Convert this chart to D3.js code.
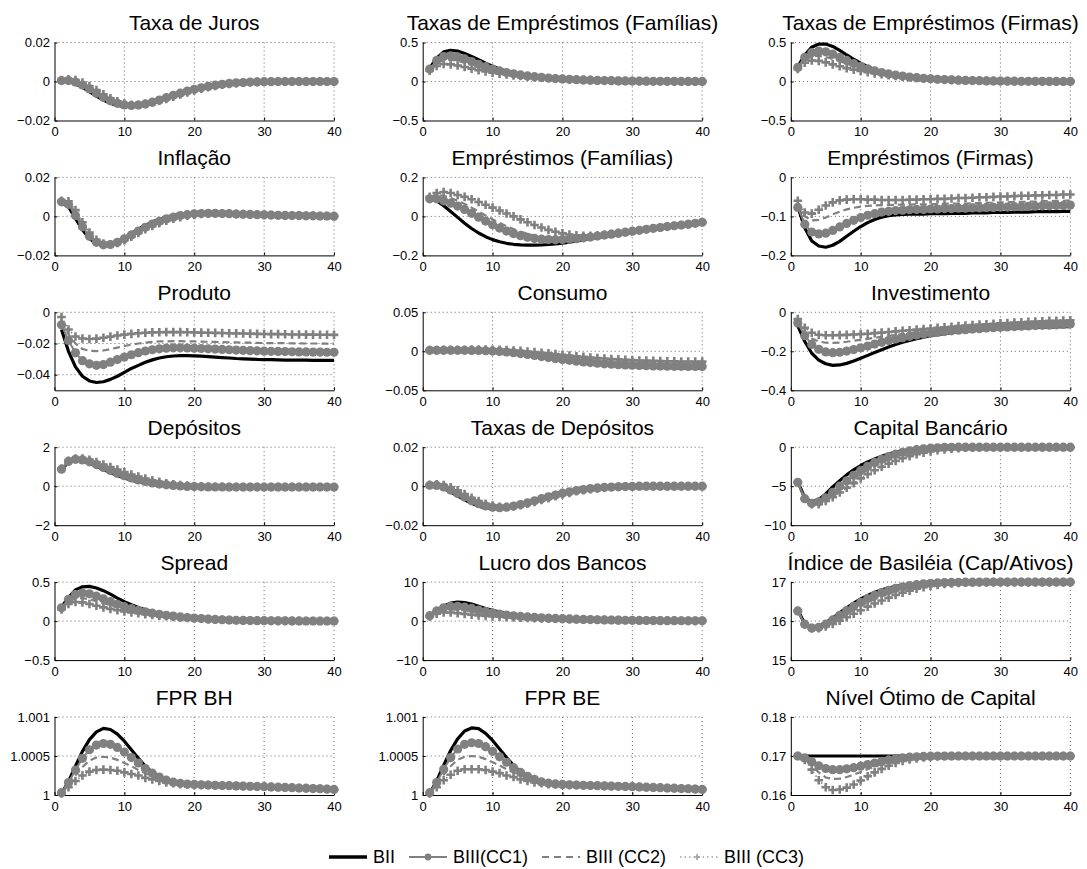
<!DOCTYPE html>
<html>
<head>
<meta charset="utf-8">
<script src="https://cdn.jsdelivr.net/npm/d3@7"></script>
<style>
  body { margin: 0; background: #fff; }
  svg { display: block; font-family: "Liberation Sans", Arial, Helvetica, sans-serif; }
</style>
</head>
<body>
<svg id="chart" width="1087" height="869"></svg>
<script>
// ---- data: impulse responses over 40 periods, one array per scenario ----
const periods = [1,2,3,4,5,6,7,8,9,10,11,12,13,14,15,16,17,18,19,20,
                 21,22,23,24,25,26,27,28,29,30,31,32,33,34,35,36,37,38,39,40];

const seriesNames = ["BII", "BIII(CC1)", "BIII (CC2)", "BIII (CC3)"];

const titles = [
  "Taxa de Juros", "Taxas de Empréstimos (Famílias)", "Taxas de Empréstimos (Firmas)",
  "Inflação", "Empréstimos (Famílias)", "Empréstimos (Firmas)",
  "Produto", "Consumo", "Investimento",
  "Depósitos", "Taxas de Depósitos", "Capital Bancário",
  "Spread", "Lucro dos Bancos", "Índice de Basiléia (Cap/Ativos)",
  "FPR BH", "FPR BE", "Nível Ótimo de Capital"
];

const yDomains = [
  [-0.02, 0.02], [-0.5, 0.5], [-0.5, 0.5],
  [-0.02, 0.02], [-0.2, 0.2], [-0.2, 0],
  [-0.05, 0], [-0.05, 0.05], [-0.4, 0],
  [-2, 2], [-0.02, 0.02], [-10, 0],
  [-0.5, 0.5], [-10, 10], [15, 17],
  [1, 1.001], [1, 1.001], [0.16, 0.18]
];

const yTicks = [
  [-0.02, 0, 0.02], [-0.5, 0, 0.5], [-0.5, 0, 0.5],
  [-0.02, 0, 0.02], [-0.2, 0, 0.2], [-0.2, -0.1, 0],
  [-0.04, -0.02, 0], [-0.05, 0, 0.05], [-0.4, -0.2, 0],
  [-2, 0, 2], [-0.02, 0, 0.02], [-10, -5, 0],
  [-0.5, 0, 0.5], [-10, 0, 10], [15, 16, 17],
  [1, 1.0005, 1.001], [1, 1.0005, 1.001], [0.16, 0.17, 0.18]
];

const yTickLabels = [
  ["−0.02", "0", "0.02"], ["−0.5", "0", "0.5"], ["−0.5", "0", "0.5"],
  ["−0.02", "0", "0.02"], ["−0.2", "0", "0.2"], ["−0.2", "−0.1", "0"],
  ["−0.04", "−0.02", "0"], ["−0.05", "0", "0.05"], ["−0.4", "−0.2", "0"],
  ["−2", "0", "2"], ["−0.02", "0", "0.02"], ["−10", "−5", "0"],
  ["−0.5", "0", "0.5"], ["−10", "0", "10"], ["15", "16", "17"],
  ["1", "1.0005", "1.001"], ["1", "1.0005", "1.001"], ["0.16", "0.17", "0.18"]
];

const xTicks = [0, 10, 20, 30, 40];
const xTickLabels = ["0", "10", "20", "30", "40"];

// each panel: [BII, BIII(CC1), BIII (CC2), BIII (CC3)]
const taxaJuros = [
  [0.0003,0.0000,-0.0012,-0.0030,-0.0052,-0.0075,-0.0095,-0.0112,-0.0123,-0.0128,
   -0.0127,-0.0122,-0.0113,-0.0102,-0.0090,-0.0078,-0.0066,-0.0055,-0.0045,-0.0036,
   -0.0028,-0.0022,-0.0016,-0.0012,-0.0008,-0.0006,-0.0004,-0.0003,-0.0002,-0.0001,
   -0.0001,0,0,0,0,0,0,0,0,0],
  [0.0005,0.0005,-0.0003,-0.0018,-0.0038,-0.0060,-0.0081,-0.0099,-0.0112,-0.0120,
   -0.0123,-0.0121,-0.0115,-0.0106,-0.0095,-0.0083,-0.0071,-0.0060,-0.0049,-0.0040,
   -0.0032,-0.0025,-0.0019,-0.0014,-0.0010,-0.0007,-0.0005,-0.0003,-0.0002,-0.0001,
   -0.0001,0,0,0,0,0,0,0,0,0],
  [0.0006,0.0008,0.0002,-0.0012,-0.0031,-0.0052,-0.0074,-0.0093,-0.0108,-0.0117,
   -0.0121,-0.0120,-0.0115,-0.0107,-0.0097,-0.0086,-0.0074,-0.0063,-0.0052,-0.0043,
   -0.0034,-0.0027,-0.0021,-0.0016,-0.0011,-0.0008,-0.0005,-0.0003,-0.0002,-0.0001,
   -0.0001,0,0,0,0,0,0,0,0,0],
  [0.0007,0.0011,0.0007,-0.0005,-0.0023,-0.0044,-0.0066,-0.0086,-0.0102,-0.0113,
   -0.0119,-0.0119,-0.0115,-0.0108,-0.0099,-0.0089,-0.0078,-0.0067,-0.0056,-0.0046,
   -0.0037,-0.0029,-0.0023,-0.0017,-0.0012,-0.0009,-0.0006,-0.0004,-0.0002,-0.0001,
   -0.0001,0,0,0,0,0,0,0,0,0]
];

const taxasEmpFamilias = [
  [0.17,0.30,0.38,0.40,0.39,0.36,0.32,0.28,0.235,0.195,
   0.16,0.13,0.108,0.09,0.076,0.064,0.054,0.046,0.039,0.033,
   0.028,0.024,0.02,0.017,0.014,0.012,0.01,0.008,0.007,0.006,
   0.005,0.004,0.003,0.003,0.002,0.002,0.001,0.001,0.001,0.001],
  [0.16,0.27,0.32,0.33,0.315,0.29,0.255,0.22,0.19,0.16,
   0.135,0.115,0.098,0.084,0.072,0.062,0.053,0.045,0.038,0.033,
   0.028,0.024,0.02,0.017,0.014,0.012,0.01,0.008,0.007,0.006,
   0.005,0.004,0.003,0.003,0.002,0.002,0.001,0.001,0.001,0.001],
  [0.15,0.24,0.275,0.28,0.265,0.24,0.215,0.19,0.165,0.143,
   0.124,0.107,0.093,0.081,0.07,0.06,0.052,0.045,0.038,0.033,
   0.028,0.024,0.02,0.017,0.014,0.012,0.01,0.008,0.007,0.006,
   0.005,0.004,0.003,0.003,0.002,0.002,0.001,0.001,0.001,0.001],
  [0.14,0.20,0.225,0.22,0.205,0.185,0.165,0.145,0.128,0.113,
   0.10,0.089,0.079,0.07,0.062,0.055,0.048,0.042,0.037,0.032,
   0.028,0.024,0.02,0.017,0.014,0.012,0.01,0.008,0.007,0.006,
   0.005,0.004,0.003,0.003,0.002,0.002,0.001,0.001,0.001,0.001]
];

const taxasEmpFirmas = [
  [0.19,0.34,0.44,0.48,0.48,0.45,0.40,0.34,0.285,0.235,
   0.19,0.155,0.126,0.103,0.085,0.07,0.058,0.048,0.04,0.034,
   0.029,0.025,0.021,0.017,0.014,0.012,0.01,0.008,0.007,0.006,
   0.005,0.004,0.003,0.003,0.002,0.002,0.001,0.001,0.001,0.001],
  [0.18,0.31,0.37,0.39,0.38,0.35,0.31,0.27,0.23,0.195,
   0.163,0.137,0.115,0.097,0.082,0.069,0.058,0.049,0.041,0.035,
   0.029,0.025,0.021,0.017,0.014,0.012,0.01,0.008,0.007,0.006,
   0.005,0.004,0.003,0.003,0.002,0.002,0.001,0.001,0.001,0.001],
  [0.17,0.28,0.32,0.33,0.315,0.29,0.26,0.23,0.20,0.172,
   0.147,0.125,0.106,0.09,0.077,0.065,0.055,0.047,0.04,0.034,
   0.029,0.025,0.021,0.017,0.014,0.012,0.01,0.008,0.007,0.006,
   0.005,0.004,0.003,0.003,0.002,0.002,0.001,0.001,0.001,0.001],
  [0.16,0.24,0.27,0.265,0.245,0.22,0.195,0.172,0.152,0.134,
   0.118,0.104,0.092,0.081,0.071,0.062,0.054,0.047,0.04,0.034,
   0.029,0.025,0.021,0.017,0.014,0.012,0.01,0.008,0.007,0.006,
   0.005,0.004,0.003,0.003,0.002,0.002,0.001,0.001,0.001,0.001]
];

const inflacao = [
  [0.0070,0.0050,-0.0010,-0.0068,-0.0113,-0.0140,-0.0149,-0.0144,-0.0130,-0.0110,
   -0.0088,-0.0066,-0.0046,-0.0029,-0.0015,-0.0004,0.0004,0.0010,0.0014,0.0016,
   0.0017,0.0016,0.0015,0.0014,0.0013,0.0011,0.0010,0.0009,0.0008,0.0007,
   0.0006,0.0005,0.0004,0.0004,0.0003,0.0003,0.0002,0.0002,0.0002,0.0001],
  [0.0075,0.0062,0.0005,-0.0053,-0.0102,-0.0133,-0.0146,-0.0144,-0.0133,-0.0115,
   -0.0095,-0.0075,-0.0056,-0.0039,-0.0025,-0.0013,-0.0004,0.0004,0.0009,0.0013,
   0.0015,0.0016,0.0016,0.0015,0.0014,0.0012,0.0011,0.0010,0.0009,0.0008,
   0.0007,0.0006,0.0005,0.0004,0.0004,0.0003,0.0003,0.0002,0.0002,0.0001],
  [0.0078,0.0070,0.0018,-0.0042,-0.0093,-0.0127,-0.0143,-0.0144,-0.0135,-0.0119,
   -0.0100,-0.0080,-0.0061,-0.0044,-0.0030,-0.0018,-0.0008,0.0000,0.0006,0.0011,
   0.0014,0.0015,0.0015,0.0015,0.0014,0.0013,0.0012,0.0010,0.0009,0.0008,
   0.0007,0.0006,0.0005,0.0004,0.0004,0.0003,0.0003,0.0002,0.0002,0.0001],
  [0.0080,0.0078,0.0032,-0.0030,-0.0083,-0.0120,-0.0139,-0.0143,-0.0136,-0.0122,
   -0.0104,-0.0085,-0.0066,-0.0049,-0.0035,-0.0022,-0.0012,-0.0004,0.0003,0.0008,
   0.0012,0.0014,0.0015,0.0015,0.0014,0.0013,0.0012,0.0011,0.0009,0.0008,
   0.0007,0.0006,0.0005,0.0005,0.0004,0.0003,0.0003,0.0002,0.0002,0.0001]
];

const empFamilias = [
  [0.09,0.08,0.055,0.025,-0.005,-0.035,-0.062,-0.085,-0.104,-0.119,
   -0.130,-0.138,-0.143,-0.146,-0.147,-0.147,-0.146,-0.144,-0.141,-0.137,
   -0.132,-0.126,-0.12,-0.114,-0.108,-0.102,-0.096,-0.09,-0.085,-0.079,
   -0.074,-0.069,-0.064,-0.059,-0.054,-0.049,-0.045,-0.041,-0.037,-0.033],
  [0.09,0.09,0.08,0.068,0.053,0.036,0.016,-0.004,-0.024,-0.043,
   -0.06,-0.075,-0.088,-0.099,-0.107,-0.113,-0.117,-0.119,-0.12,-0.119,
   -0.117,-0.114,-0.11,-0.106,-0.101,-0.096,-0.091,-0.086,-0.081,-0.076,
   -0.071,-0.066,-0.061,-0.057,-0.052,-0.048,-0.044,-0.04,-0.035,-0.03],
  [0.095,0.11,0.105,0.095,0.08,0.064,0.045,0.025,0.005,-0.015,
   -0.033,-0.05,-0.065,-0.078,-0.089,-0.098,-0.105,-0.109,-0.112,-0.113,
   -0.113,-0.111,-0.108,-0.105,-0.101,-0.096,-0.091,-0.086,-0.081,-0.076,
   -0.071,-0.066,-0.061,-0.057,-0.052,-0.048,-0.044,-0.04,-0.035,-0.03],
  [0.10,0.12,0.125,0.12,0.11,0.10,0.088,0.074,0.06,0.045,
   0.03,0.015,0.0,-0.015,-0.03,-0.044,-0.057,-0.069,-0.079,-0.087,
   -0.093,-0.097,-0.099,-0.099,-0.097,-0.094,-0.09,-0.086,-0.081,-0.076,
   -0.071,-0.066,-0.061,-0.057,-0.052,-0.048,-0.044,-0.04,-0.035,-0.03]
];

const empFirmas = [
  [-0.075,-0.13,-0.163,-0.176,-0.179,-0.174,-0.164,-0.151,-0.138,-0.126,
   -0.116,-0.108,-0.102,-0.098,-0.096,-0.095,-0.094,-0.094,-0.094,-0.093,
   -0.093,-0.093,-0.092,-0.092,-0.092,-0.091,-0.091,-0.091,-0.090,-0.090,
   -0.090,-0.089,-0.089,-0.089,-0.088,-0.088,-0.088,-0.088,-0.087,-0.087],
  [-0.077,-0.12,-0.14,-0.145,-0.143,-0.136,-0.127,-0.118,-0.11,-0.103,
   -0.097,-0.093,-0.089,-0.087,-0.085,-0.084,-0.083,-0.082,-0.082,-0.081,
   -0.081,-0.08,-0.08,-0.079,-0.079,-0.078,-0.078,-0.077,-0.077,-0.076,
   -0.076,-0.075,-0.075,-0.074,-0.074,-0.073,-0.073,-0.072,-0.072,-0.071],
  [-0.07,-0.10,-0.11,-0.109,-0.103,-0.095,-0.088,-0.082,-0.078,-0.075,
   -0.073,-0.072,-0.071,-0.071,-0.07,-0.07,-0.07,-0.069,-0.069,-0.069,
   -0.068,-0.068,-0.067,-0.067,-0.067,-0.066,-0.066,-0.065,-0.065,-0.064,
   -0.064,-0.063,-0.063,-0.062,-0.062,-0.061,-0.061,-0.06,-0.06,-0.059],
  [-0.06,-0.09,-0.093,-0.083,-0.072,-0.064,-0.059,-0.057,-0.056,-0.056,
   -0.057,-0.057,-0.058,-0.058,-0.058,-0.058,-0.057,-0.057,-0.056,-0.056,
   -0.055,-0.055,-0.054,-0.053,-0.053,-0.052,-0.051,-0.051,-0.05,-0.049,
   -0.049,-0.048,-0.047,-0.047,-0.046,-0.046,-0.045,-0.045,-0.044,-0.044]
];

const produto = [
  [-0.011,-0.025,-0.035,-0.041,-0.044,-0.045,-0.0445,-0.043,-0.041,-0.0385,
   -0.036,-0.034,-0.032,-0.0305,-0.0293,-0.0285,-0.028,-0.0278,-0.0278,-0.0279,
   -0.0281,-0.0284,-0.0287,-0.029,-0.0293,-0.0296,-0.0298,-0.03,-0.0302,-0.0303,
   -0.0304,-0.0305,-0.0306,-0.0306,-0.0307,-0.0307,-0.0308,-0.0308,-0.0308,-0.0308],
  [-0.008,-0.018,-0.026,-0.031,-0.033,-0.034,-0.0335,-0.032,-0.0303,-0.0287,
   -0.0272,-0.0259,-0.0248,-0.024,-0.0234,-0.023,-0.0228,-0.0228,-0.0229,-0.023,
   -0.0232,-0.0234,-0.0236,-0.0238,-0.024,-0.0242,-0.0244,-0.0246,-0.0247,-0.0249,
   -0.025,-0.0251,-0.0252,-0.0253,-0.0254,-0.0254,-0.0255,-0.0255,-0.0256,-0.0256],
  [-0.006,-0.014,-0.02,-0.0235,-0.0247,-0.0249,-0.0245,-0.0236,-0.0226,-0.0216,
   -0.0207,-0.02,-0.0194,-0.019,-0.0187,-0.0186,-0.0185,-0.0185,-0.0186,-0.0187,
   -0.0188,-0.0189,-0.019,-0.0191,-0.0192,-0.0193,-0.0194,-0.0195,-0.0196,-0.0197,
   -0.0197,-0.0198,-0.0198,-0.0199,-0.0199,-0.02,-0.02,-0.02,-0.0201,-0.0201],
  [-0.003,-0.011,-0.0155,-0.0168,-0.0171,-0.0169,-0.0163,-0.0156,-0.0149,-0.0143,
   -0.0138,-0.0134,-0.0131,-0.0129,-0.0128,-0.0127,-0.0127,-0.0127,-0.0128,-0.0129,
   -0.013,-0.0131,-0.0132,-0.0133,-0.0134,-0.0135,-0.0136,-0.0137,-0.0138,-0.0139,
   -0.014,-0.014,-0.0141,-0.0142,-0.0142,-0.0143,-0.0143,-0.0144,-0.0144,-0.0145]
];

const consumo = [
  [0.001,0.001,0.001,0.001,0.001,0.001,0.0009,0.0007,0.0004,0.0,
   -0.0006,-0.0014,-0.0024,-0.0036,-0.0049,-0.0063,-0.0077,-0.0091,-0.0104,-0.0117,
   -0.0129,-0.014,-0.015,-0.0159,-0.0167,-0.0174,-0.018,-0.0186,-0.0191,-0.0195,
   -0.0199,-0.0202,-0.0205,-0.0208,-0.021,-0.0212,-0.0214,-0.0216,-0.0217,-0.0218],
  [0.0012,0.0012,0.0012,0.0012,0.0012,0.0012,0.0011,0.001,0.0007,0.0003,
   -0.0002,-0.0009,-0.0018,-0.0029,-0.0041,-0.0054,-0.0067,-0.008,-0.0093,-0.0105,
   -0.0116,-0.0127,-0.0136,-0.0145,-0.0153,-0.016,-0.0166,-0.0171,-0.0175,-0.0179,
   -0.0182,-0.0185,-0.0187,-0.0189,-0.0191,-0.0192,-0.0193,-0.0194,-0.0195,-0.0196],
  [0.0014,0.0014,0.0014,0.0014,0.0014,0.0015,0.0015,0.0015,0.0014,0.0012,
   0.0009,0.0004,-0.0002,-0.001,-0.0019,-0.0029,-0.0039,-0.005,-0.0061,-0.0072,
   -0.0082,-0.0092,-0.0101,-0.011,-0.0118,-0.0125,-0.0131,-0.0137,-0.0142,-0.0146,
   -0.015,-0.0153,-0.0156,-0.0158,-0.016,-0.0162,-0.0163,-0.0164,-0.0165,-0.0166],
  [0.0016,0.0017,0.0018,0.0019,0.0019,0.002,0.0021,0.0021,0.0021,0.002,
   0.0018,0.0015,0.0011,0.0005,-0.0002,-0.001,-0.0018,-0.0027,-0.0036,-0.0045,
   -0.0054,-0.0063,-0.0071,-0.0079,-0.0086,-0.0093,-0.0099,-0.0104,-0.0109,-0.0113,
   -0.0117,-0.012,-0.0123,-0.0125,-0.0127,-0.0129,-0.013,-0.0131,-0.0132,-0.0133]
];

const investimento = [
  [-0.07,-0.15,-0.21,-0.245,-0.264,-0.272,-0.27,-0.262,-0.25,-0.236,
   -0.221,-0.206,-0.192,-0.178,-0.165,-0.154,-0.144,-0.135,-0.127,-0.12,
   -0.114,-0.109,-0.104,-0.1,-0.097,-0.094,-0.091,-0.089,-0.087,-0.085,
   -0.083,-0.082,-0.08,-0.079,-0.078,-0.077,-0.076,-0.075,-0.074,-0.073],
  [-0.055,-0.12,-0.165,-0.19,-0.203,-0.207,-0.205,-0.199,-0.191,-0.182,
   -0.173,-0.163,-0.154,-0.145,-0.137,-0.13,-0.123,-0.117,-0.112,-0.107,
   -0.103,-0.099,-0.095,-0.092,-0.089,-0.086,-0.084,-0.081,-0.079,-0.077,
   -0.075,-0.073,-0.071,-0.07,-0.068,-0.067,-0.066,-0.064,-0.062,-0.06],
  [-0.045,-0.10,-0.135,-0.15,-0.156,-0.157,-0.155,-0.151,-0.146,-0.141,
   -0.136,-0.131,-0.126,-0.121,-0.116,-0.112,-0.108,-0.104,-0.1,-0.097,
   -0.094,-0.091,-0.088,-0.085,-0.082,-0.08,-0.078,-0.075,-0.073,-0.071,
   -0.069,-0.067,-0.066,-0.064,-0.063,-0.061,-0.059,-0.057,-0.055,-0.053],
  [-0.035,-0.08,-0.105,-0.115,-0.118,-0.118,-0.117,-0.116,-0.114,-0.112,
   -0.11,-0.107,-0.104,-0.101,-0.098,-0.095,-0.092,-0.089,-0.086,-0.083,
   -0.08,-0.077,-0.074,-0.071,-0.068,-0.066,-0.063,-0.061,-0.059,-0.057,
   -0.055,-0.053,-0.051,-0.049,-0.047,-0.046,-0.044,-0.043,-0.042,-0.041]
];

const depositos = [
  [0.85,1.25,1.35,1.30,1.18,1.02,0.86,0.70,0.55,0.42,
   0.31,0.22,0.15,0.09,0.05,0.02,0.0,-0.01,-0.02,-0.03,
   -0.03,-0.04,-0.04,-0.04,-0.04,-0.04,-0.04,-0.04,-0.04,-0.04,
   -0.04,-0.04,-0.04,-0.04,-0.04,-0.04,-0.04,-0.04,-0.04,-0.04],
  [0.87,1.27,1.38,1.35,1.25,1.11,0.96,0.81,0.67,0.54,
   0.42,0.32,0.24,0.17,0.11,0.07,0.04,0.01,-0.01,-0.02,
   -0.03,-0.04,-0.04,-0.04,-0.04,-0.04,-0.04,-0.04,-0.04,-0.04,
   -0.04,-0.04,-0.04,-0.04,-0.04,-0.04,-0.04,-0.04,-0.04,-0.04],
  [0.88,1.29,1.40,1.39,1.30,1.18,1.04,0.90,0.76,0.63,
   0.51,0.40,0.31,0.23,0.16,0.11,0.07,0.04,0.01,0.0,
   -0.02,-0.03,-0.03,-0.04,-0.04,-0.04,-0.04,-0.04,-0.04,-0.04,
   -0.04,-0.04,-0.04,-0.04,-0.04,-0.04,-0.04,-0.04,-0.04,-0.04],
  [0.90,1.30,1.42,1.42,1.35,1.24,1.11,0.98,0.85,0.72,
   0.60,0.49,0.39,0.30,0.22,0.15,0.10,0.06,0.03,0.01,
   -0.01,-0.02,-0.03,-0.03,-0.04,-0.04,-0.04,-0.04,-0.04,-0.04,
   -0.04,-0.04,-0.04,-0.04,-0.04,-0.04,-0.04,-0.04,-0.04,-0.04]
];

const taxasDepositos = [
  [0.0003,0.0,-0.0012,-0.003,-0.005,-0.007,-0.0088,-0.0102,-0.0111,-0.0115,
   -0.0114,-0.0109,-0.0101,-0.0091,-0.008,-0.0069,-0.0058,-0.0048,-0.0039,-0.0031,
   -0.0024,-0.0018,-0.0013,-0.001,-0.0007,-0.0005,-0.0003,-0.0002,-0.0001,-0.0001,
   0,0,0,0,0,0,0,0,0,0],
  [0.0005,0.0004,-0.0004,-0.0019,-0.0037,-0.0056,-0.0075,-0.009,-0.0101,-0.0108,
   -0.011,-0.0108,-0.0102,-0.0094,-0.0085,-0.0075,-0.0064,-0.0054,-0.0045,-0.0036,
   -0.0029,-0.0022,-0.0017,-0.0012,-0.0009,-0.0006,-0.0004,-0.0003,-0.0002,-0.0001,
   0,0,0,0,0,0,0,0,0,0],
  [0.0006,0.0007,0.0001,-0.0012,-0.0029,-0.0048,-0.0067,-0.0083,-0.0096,-0.0104,
   -0.0108,-0.0107,-0.0103,-0.0096,-0.0088,-0.0078,-0.0068,-0.0058,-0.0048,-0.0039,
   -0.0031,-0.0024,-0.0018,-0.0013,-0.001,-0.0007,-0.0005,-0.0003,-0.0002,-0.0001,
   0,0,0,0,0,0,0,0,0,0],
  [0.0007,0.001,0.0006,-0.0005,-0.0021,-0.004,-0.0059,-0.0076,-0.009,-0.0099,
   -0.0105,-0.0106,-0.0103,-0.0097,-0.009,-0.0081,-0.0071,-0.0061,-0.0051,-0.0042,
   -0.0034,-0.0026,-0.002,-0.0015,-0.0011,-0.0008,-0.0005,-0.0003,-0.0002,-0.0001,
   0,0,0,0,0,0,0,0,0,0]
];

const capitalBancario = [
  [-4.4,-6.5,-7.0,-6.7,-6.0,-5.1,-4.3,-3.55,-2.9,-2.35,
   -1.9,-1.5,-1.15,-0.87,-0.64,-0.46,-0.32,-0.21,-0.13,-0.08,
   -0.04,-0.02,-0.01,0,0,0,0,0,0,0,
   0,0,0,0,0,0,0,0,0,0],
  [-4.5,-6.6,-7.2,-7.0,-6.5,-5.8,-5.0,-4.3,-3.6,-3.0,
   -2.45,-1.95,-1.55,-1.2,-0.9,-0.66,-0.47,-0.32,-0.21,-0.13,
   -0.07,-0.03,-0.01,0,0,0,0,0,0,0,
   0,0,0,0,0,0,0,0,0,0],
  [-4.5,-6.6,-7.25,-7.15,-6.7,-6.1,-5.4,-4.7,-4.05,-3.45,
   -2.9,-2.4,-1.97,-1.6,-1.27,-0.98,-0.74,-0.54,-0.38,-0.26,
   -0.17,-0.1,-0.06,-0.03,-0.01,0,0,0,0,0,
   0,0,0,0,0,0,0,0,0,0],
  [-4.5,-6.6,-7.3,-7.3,-6.9,-6.4,-5.8,-5.2,-4.6,-4.0,
   -3.45,-2.95,-2.5,-2.1,-1.75,-1.42,-1.15,-0.9,-0.7,-0.53,
   -0.4,-0.29,-0.2,-0.13,-0.08,-0.05,-0.03,-0.01,0,0,
   0,0,0,0,0,0,0,0,0,0]
];

const spread = [
  [0.18,0.30,0.40,0.44,0.445,0.425,0.39,0.345,0.295,0.25,
   0.21,0.175,0.145,0.12,0.10,0.083,0.069,0.057,0.047,0.039,
   0.032,0.026,0.021,0.017,0.014,0.011,0.009,0.007,0.006,0.005,
   0.004,0.003,0.003,0.002,0.002,0.001,0.001,0.001,0.001,0.001],
  [0.17,0.28,0.34,0.36,0.35,0.32,0.285,0.25,0.215,0.185,
   0.16,0.138,0.119,0.102,0.088,0.075,0.064,0.054,0.046,0.039,
   0.032,0.026,0.021,0.017,0.014,0.011,0.009,0.007,0.006,0.005,
   0.004,0.003,0.003,0.002,0.002,0.001,0.001,0.001,0.001,0.001],
  [0.16,0.25,0.29,0.295,0.28,0.255,0.23,0.205,0.18,0.158,
   0.139,0.122,0.107,0.094,0.082,0.071,0.061,0.052,0.045,0.038,
   0.032,0.026,0.021,0.017,0.014,0.011,0.009,0.007,0.006,0.005,
   0.004,0.003,0.003,0.002,0.002,0.001,0.001,0.001,0.001,0.001],
  [0.15,0.22,0.245,0.24,0.22,0.197,0.176,0.157,0.14,0.125,
   0.112,0.10,0.089,0.079,0.07,0.062,0.054,0.047,0.041,0.035,
   0.03,0.025,0.021,0.017,0.014,0.011,0.009,0.007,0.006,0.005,
   0.004,0.003,0.003,0.002,0.002,0.001,0.001,0.001,0.001,0.001]
];

const lucroBancos = [
  [1.4,2.7,3.9,4.6,4.9,4.75,4.35,3.8,3.25,2.75,
   2.3,1.92,1.62,1.38,1.19,1.04,0.91,0.81,0.72,0.64,
   0.57,0.51,0.45,0.40,0.36,0.32,0.28,0.25,0.22,0.20,
   0.18,0.16,0.14,0.12,0.11,0.10,0.09,0.08,0.07,0.06],
  [1.4,2.6,3.4,3.75,3.8,3.6,3.25,2.85,2.45,2.1,
   1.8,1.55,1.35,1.19,1.06,0.95,0.85,0.76,0.68,0.61,
   0.55,0.49,0.44,0.39,0.35,0.31,0.28,0.25,0.22,0.20,
   0.18,0.16,0.14,0.12,0.11,0.10,0.09,0.08,0.07,0.06],
  [1.3,2.3,2.8,3.0,2.95,2.75,2.5,2.22,1.96,1.73,
   1.53,1.37,1.23,1.11,1.0,0.9,0.81,0.73,0.66,0.6,
   0.54,0.48,0.43,0.39,0.35,0.31,0.28,0.25,0.22,0.20,
   0.18,0.16,0.14,0.12,0.11,0.10,0.09,0.08,0.07,0.06],
  [1.2,1.9,2.2,2.2,2.05,1.85,1.65,1.47,1.32,1.2,
   1.1,1.02,0.95,0.88,0.82,0.76,0.7,0.65,0.6,0.55,
   0.5,0.46,0.42,0.38,0.34,0.31,0.28,0.25,0.22,0.20,
   0.18,0.16,0.14,0.12,0.11,0.10,0.09,0.08,0.07,0.06]
];

const indiceBasileia = [
  [16.28,15.93,15.84,15.87,15.96,16.08,16.21,16.34,16.46,16.57,
   16.66,16.74,16.80,16.85,16.89,16.92,16.945,16.962,16.975,16.984,
   16.99,16.994,16.997,16.998,16.999,17,17,17,17,17,
   17,17,17,17,17,17,17,17,17,17],
  [16.26,15.92,15.82,15.84,15.92,16.03,16.15,16.27,16.38,16.48,
   16.58,16.66,16.73,16.79,16.84,16.88,16.91,16.935,16.955,16.97,
   16.98,16.987,16.992,16.995,16.997,16.999,17,17,17,17,
   17,17,17,17,17,17,17,17,17,17],
  [16.26,15.92,15.82,15.83,15.89,15.98,16.08,16.19,16.29,16.39,
   16.48,16.56,16.64,16.70,16.76,16.81,16.85,16.885,16.915,16.94,
   16.957,16.97,16.98,16.987,16.992,16.995,16.997,16.999,17,17,
   17,17,17,17,17,17,17,17,17,17],
  [16.26,15.92,15.82,15.82,15.86,15.93,16.01,16.10,16.19,16.28,
   16.37,16.45,16.53,16.60,16.67,16.73,16.78,16.83,16.87,16.90,
   16.93,16.95,16.965,16.975,16.985,16.99,16.994,16.997,16.999,17,
   17,17,17,17,17,17,17,17,17,17]
];

const fprBH = [
  [1.00002,1.00017,1.00037,1.00056,1.00071,1.00081,1.000855,1.00084,1.00078,1.00069,
   1.00058,1.00047,1.00037,1.00029,1.00023,1.00019,1.000165,1.00015,1.00014,1.000135,
   1.00013,1.000128,1.000125,1.000122,1.00012,1.000117,1.000115,1.000112,1.00011,1.000107,
   1.000104,1.0001,1.000097,1.000094,1.00009,1.000087,1.000083,1.00008,1.000076,1.000072],
  [1.00003,1.00016,1.00032,1.00047,1.00058,1.00064,1.00066,1.00065,1.00061,1.00055,
   1.00048,1.00041,1.00034,1.00028,1.00023,1.00019,1.000165,1.00015,1.00014,1.000135,
   1.00013,1.000128,1.000125,1.000122,1.00012,1.000117,1.000115,1.000112,1.00011,1.000107,
   1.000104,1.0001,1.000097,1.000094,1.00009,1.000087,1.000083,1.00008,1.000076,1.000072],
  [1.00003,1.00013,1.00025,1.00036,1.00044,1.00048,1.00049,1.00048,1.00045,1.00041,
   1.00037,1.00032,1.00028,1.00024,1.0002,1.00018,1.00016,1.00015,1.00014,1.000135,
   1.00013,1.000128,1.000125,1.000122,1.00012,1.000117,1.000115,1.000112,1.00011,1.000107,
   1.000104,1.0001,1.000097,1.000094,1.00009,1.000087,1.000083,1.00008,1.000076,1.000072],
  [1.00002,1.0001,1.00018,1.00025,1.0003,1.00032,1.000325,1.00032,1.00031,1.00029,
   1.00027,1.00025,1.00022,1.0002,1.00018,1.00016,1.00015,1.00014,1.000135,1.00013,
   1.000128,1.000126,1.000124,1.000121,1.000119,1.000116,1.000114,1.000111,1.000109,1.000106,
   1.000103,1.0001,1.000097,1.000094,1.00009,1.000087,1.000083,1.00008,1.000076,1.000072]
];

const fprBE = [
  [1.00002,1.00018,1.00038,1.00057,1.00072,1.00082,1.00086,1.00085,1.00079,1.0007,
   1.00059,1.00048,1.00038,1.0003,1.00024,1.0002,1.000168,1.000152,1.000142,1.000136,
   1.000131,1.000128,1.000125,1.000122,1.00012,1.000117,1.000115,1.000112,1.00011,1.000107,
   1.000104,1.0001,1.000097,1.000094,1.00009,1.000087,1.000083,1.00008,1.000076,1.000072],
  [1.00003,1.00016,1.00033,1.00048,1.00059,1.00065,1.00067,1.00066,1.00062,1.00056,
   1.00049,1.00042,1.00035,1.00029,1.00024,1.0002,1.000168,1.000152,1.000142,1.000136,
   1.000131,1.000128,1.000125,1.000122,1.00012,1.000117,1.000115,1.000112,1.00011,1.000107,
   1.000104,1.0001,1.000097,1.000094,1.00009,1.000087,1.000083,1.00008,1.000076,1.000072],
  [1.00003,1.00013,1.00026,1.00037,1.00045,1.00049,1.0005,1.00049,1.00046,1.00042,
   1.00038,1.00033,1.00029,1.00025,1.00021,1.00018,1.000162,1.00015,1.00014,1.000135,
   1.00013,1.000128,1.000125,1.000122,1.00012,1.000117,1.000115,1.000112,1.00011,1.000107,
   1.000104,1.0001,1.000097,1.000094,1.00009,1.000087,1.000083,1.00008,1.000076,1.000072],
  [1.00002,1.0001,1.00019,1.00026,1.00031,1.00033,1.00033,1.00033,1.00032,1.0003,
   1.00028,1.00025,1.00023,1.0002,1.00018,1.00016,1.00015,1.00014,1.000135,1.00013,
   1.000128,1.000126,1.000124,1.000121,1.000119,1.000116,1.000114,1.000111,1.000109,1.000106,
   1.000103,1.0001,1.000097,1.000094,1.00009,1.000087,1.000083,1.00008,1.000076,1.000072]
];

const nivelOtimoCapital = [
  [0.17,0.17,0.17,0.17,0.17,0.17,0.17,0.17,0.17,0.17,
   0.17,0.17,0.17,0.17,0.17,0.17,0.17,0.17,0.17,0.17,
   0.17,0.17,0.17,0.17,0.17,0.17,0.17,0.17,0.17,0.17,
   0.17,0.17,0.17,0.17,0.17,0.17,0.17,0.17,0.17,0.17],
  [0.17,0.1695,0.1685,0.1675,0.1668,0.1665,0.1665,0.1667,0.167,0.1674,
   0.1678,0.1682,0.1686,0.169,0.1693,0.1695,0.1697,0.1698,0.1699,0.16995,
   0.17,0.17,0.17,0.17,0.17,0.17,0.17,0.17,0.17,0.17,
   0.17,0.17,0.17,0.17,0.17,0.17,0.17,0.17,0.17,0.17],
  [0.17,0.1692,0.1675,0.1658,0.1645,0.1641,0.1642,0.1646,0.1652,0.1659,
   0.1666,0.1673,0.1679,0.1685,0.1689,0.1692,0.1695,0.1697,0.1698,0.1699,
   0.16995,0.17,0.17,0.17,0.17,0.17,0.17,0.17,0.17,0.17,
   0.17,0.17,0.17,0.17,0.17,0.17,0.17,0.17,0.17,0.17],
  [0.17,0.169,0.1665,0.1638,0.162,0.1613,0.1614,0.1619,0.1627,0.1637,
   0.1648,0.1658,0.1667,0.1675,0.1682,0.1687,0.1691,0.1694,0.1696,0.1698,
   0.1699,0.16995,0.17,0.17,0.17,0.17,0.17,0.17,0.17,0.17,
   0.17,0.17,0.17,0.17,0.17,0.17,0.17,0.17,0.17,0.17]
];

const panelData = [
  taxaJuros, taxasEmpFamilias, taxasEmpFirmas,
  inflacao, empFamilias, empFirmas,
  produto, consumo, investimento,
  depositos, taxasDepositos, capitalBancario,
  spread, lucroBancos, indiceBasileia,
  fprBH, fprBE, nivelOtimoCapital
];

// ---- layout ----
const W = 1087, H = 869;
const colLeft = [54.5, 422.7, 790.8];
const plotW = 279.5, plotH = 78;
const rowTop0 = 42.5, rowStep = 134.9;
const gray = "#808080";

const svg = d3.select("#chart");
svg.append("rect").attr("width", W).attr("height", H).attr("fill", "#fff");

const plusPath = s => `M${-s},0H${s}M0,${-s}V${s}`;

panelData.forEach((series, i) => {
  const c = i % 3, r = Math.floor(i / 3);
  const g = svg.append("g")
    .attr("transform", `translate(${colLeft[c]},${rowTop0 + r * rowStep})`);

  const x = d3.scaleLinear().domain([0, 40]).range([0, plotW]);
  const y = d3.scaleLinear().domain(yDomains[i]).range([plotH, 0]);

  // dotted grid
  const grid = g.append("g").attr("stroke", "#555").attr("stroke-width", 0.9)
    .attr("stroke-dasharray", "1,3");
  yTicks[i].filter(v => v !== yDomains[i][0]).forEach(v => {
    grid.append("line").attr("x1", 0).attr("x2", plotW)
      .attr("y1", y(v)).attr("y2", y(v));
  });
  xTicks.filter(v => v !== 0).forEach(v => {
    grid.append("line").attr("x1", x(v)).attr("x2", x(v))
      .attr("y1", 0).attr("y2", plotH);
  });

  // axes (left and bottom only, inward ticks)
  const xAxis = d3.axisBottom(x).tickValues(xTicks)
    .tickFormat((d, k) => xTickLabels[k]).tickSizeInner(-3).tickSizeOuter(0).tickPadding(6.5);
  const yAxis = d3.axisLeft(y).tickValues(yTicks[i])
    .tickFormat((d, k) => yTickLabels[i][k]).tickSizeInner(-3).tickSizeOuter(0).tickPadding(4.5);

  const gx = g.append("g").attr("transform", `translate(0,${plotH})`).call(xAxis);
  const gy = g.append("g").call(yAxis);
  [gx, gy].forEach(a => {
    a.attr("font-family", null).attr("font-size", null);
    a.select(".domain").attr("stroke", "#000").attr("stroke-width", 1);
    a.selectAll(".tick line").attr("stroke", "#000").attr("stroke-width", 1);
    a.selectAll(".tick text").attr("fill", "#000").style("font-size", "13px");
  });

  // title
  g.append("text").attr("x", plotW / 2).attr("y", -12.5)
    .attr("text-anchor", "middle").style("font-size", "21px").attr("fill", "#000")
    .text(titles[i]);

  const line = d3.line().x((d, k) => x(periods[k])).y(d => y(d));

  // BII
  g.append("path").datum(series[0]).attr("d", line)
    .attr("fill", "none").attr("stroke", "#000").attr("stroke-width", 3.2)
    .attr("stroke-linejoin", "round");

  // BIII(CC1): solid with filled circles
  g.append("path").datum(series[1]).attr("d", line)
    .attr("fill", "none").attr("stroke", gray).attr("stroke-width", 2);
  g.append("g").selectAll("circle").data(series[1]).join("circle")
    .attr("cx", (d, k) => x(periods[k])).attr("cy", d => y(d))
    .attr("r", 4.6).attr("fill", gray);

  // BIII (CC2): dashed
  g.append("path").datum(series[2]).attr("d", line)
    .attr("fill", "none").attr("stroke", gray).attr("stroke-width", 2.2)
    .attr("stroke-dasharray", "7,4");

  // BIII (CC3): dotted with plus markers
  g.append("path").datum(series[3]).attr("d", line)
    .attr("fill", "none").attr("stroke", gray).attr("stroke-width", 1.5)
    .attr("stroke-dasharray", "1.5,3");
  g.append("g").selectAll("path").data(series[3]).join("path")
    .attr("transform", (d, k) => `translate(${x(periods[k])},${y(d)})`)
    .attr("d", plusPath(4.3)).attr("stroke", gray).attr("stroke-width", 2.6)
    .attr("fill", "none");
});

// ---- legend ----
const legend = svg.append("g").attr("transform", "translate(0,857)");
const lineLen = 38, textGap = 6, itemGap = 14;
let cursor = 329;
seriesNames.forEach((name, k) => {
  const item = legend.append("g");
  const l = item.append("line").attr("x1", cursor).attr("x2", cursor + lineLen)
    .attr("y1", 0).attr("y2", 0).attr("fill", "none");
  const mid = cursor + lineLen / 2;
  if (k === 0) {
    l.attr("stroke", "#000").attr("stroke-width", 3.5);
  } else if (k === 1) {
    l.attr("stroke", gray).attr("stroke-width", 2);
    item.append("circle").attr("cx", mid).attr("cy", 0).attr("r", 3.4).attr("fill", gray);
  } else if (k === 2) {
    l.attr("stroke", gray).attr("stroke-width", 2).attr("stroke-dasharray", "7,5");
  } else {
    l.attr("stroke", "#a0a0a0").attr("stroke-width", 1.3).attr("stroke-dasharray", "1.5,3");
    item.append("path").attr("transform", `translate(${mid - 2},0)`)
      .attr("d", plusPath(3)).attr("stroke", "#a0a0a0").attr("stroke-width", 1.6);
  }
  const t = item.append("text").attr("x", cursor + lineLen + textGap).attr("y", 6.3)
    .style("font-size", "18px").attr("fill", "#000").text(name);
  cursor += lineLen + textGap + t.node().getComputedTextLength() + itemGap;
});
</script>
</body>
</html>
